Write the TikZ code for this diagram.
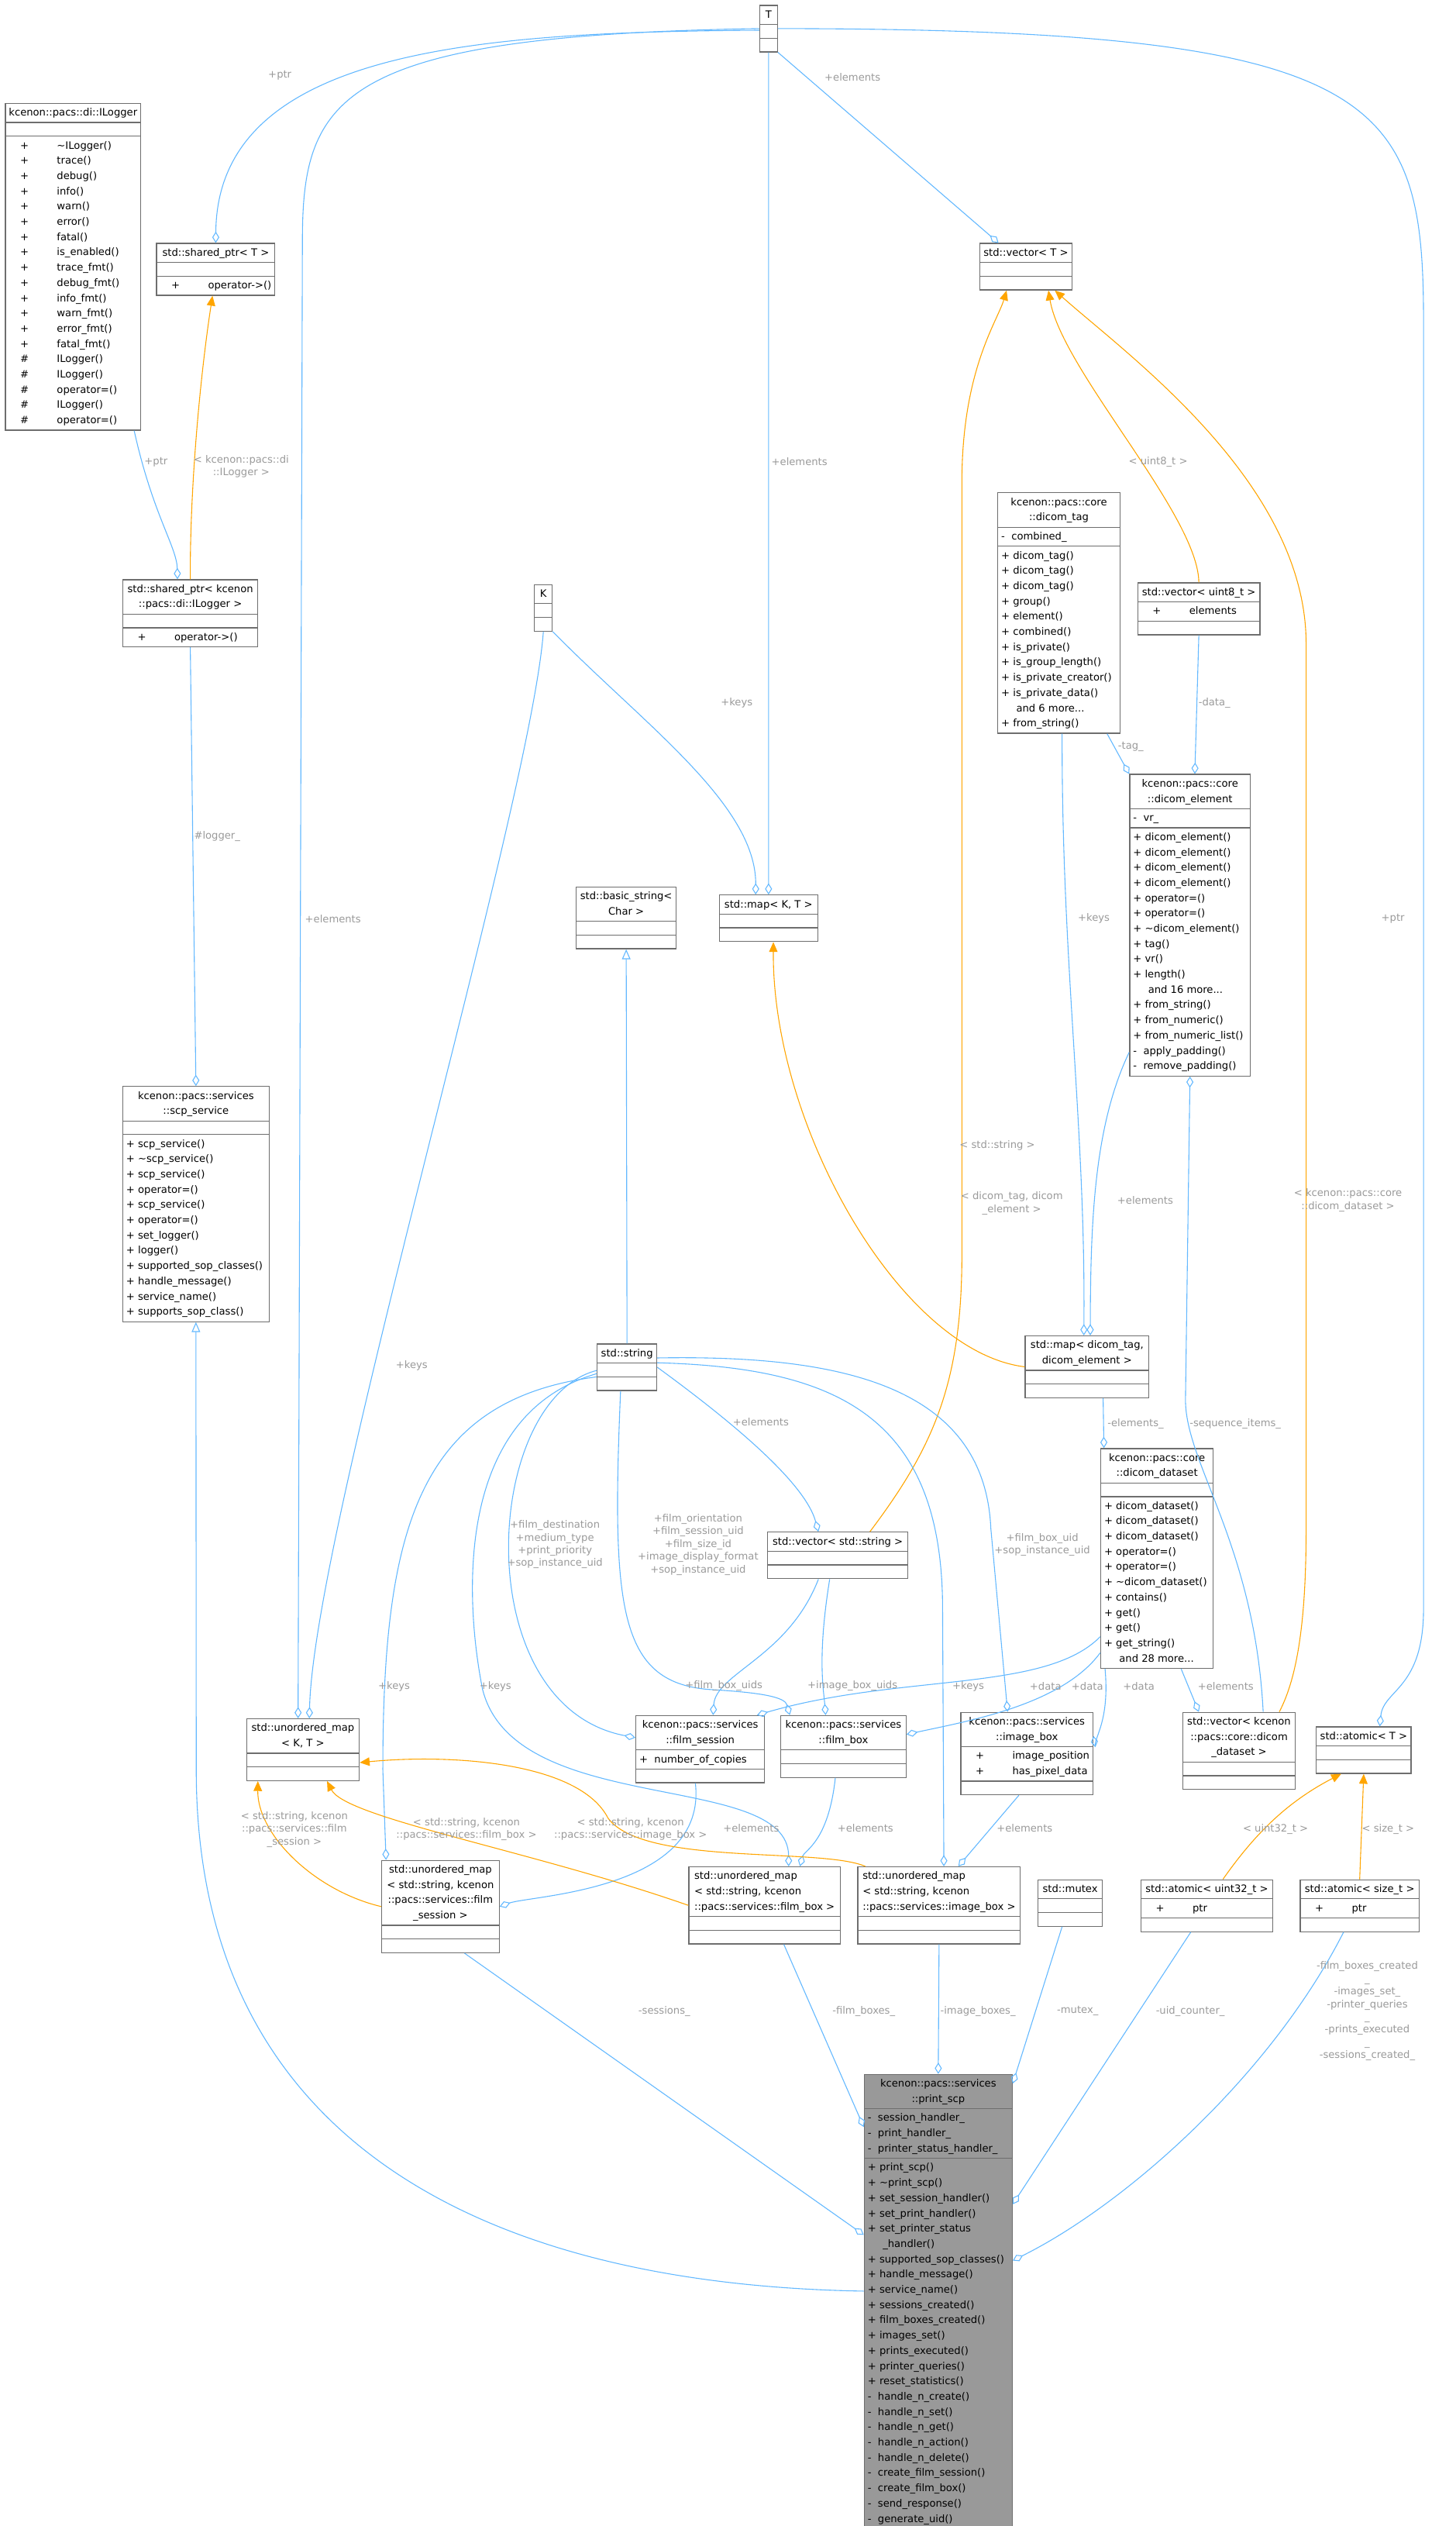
\documentclass[tikz,border=0pt]{standalone}
\usepackage{fontspec}
\usetikzlibrary{arrows.meta,shapes.multipart,calc}
\newfontfamily\dejavu{DejaVu Sans}
\definecolor{edgeblue}{HTML}{63B8FF}
\definecolor{edgeorange}{HTML}{FFA500}
\definecolor{labelgray}{HTML}{9A9A9A}
\definecolor{boxline}{HTML}{6E6E6E}
\definecolor{focusfill}{HTML}{999999}
\newcommand\ct[1]{\begin{tabular}{@{}c@{}}#1\end{tabular}}
\newcommand\ml[1]{\begin{tabular}{@{}l@{}}#1\end{tabular}}
\newcommand\wl[1]{\begin{tabular}{@{\hspace{8pt}}l@{\hspace{20pt}}l@{}}#1\end{tabular}}
\newcommand\emp{\hbox to 2pt{\rule{0pt}{7pt}\hfil}}
\tikzset{
  classbox/.style={draw=boxline, line width=0.7pt, fill=white, rectangle split, rectangle split parts=3,
    rectangle split ignore empty parts=false,
    rectangle split part align={center,left,left}, anchor=north west, inner xsep=2.5pt, inner ysep=1pt,
    font=\dejavu\fontsize{7.2}{10.8}\selectfont},
  focusbox/.style={classbox, fill=focusfill},
  aggr/.style={draw=edgeblue, line width=0.6pt, -{Diamond[open,length=8pt,width=5pt]}},
  inh/.style={draw=edgeblue, line width=0.6pt, -{Triangle[open,length=7pt,width=6pt]}},
  tmpl/.style={draw=edgeorange, line width=0.6pt, -{Triangle[length=7pt,width=6pt]}},
  lbl/.style={font=\dejavu\fontsize{7.2}{9}\selectfont, text=labelgray, align=center, inner sep=0pt}
}
\begin{document}
\begin{tikzpicture}[x=0.4mm,y=-0.4mm]
\useasboundingbox (0,0) rectangle (905,1570);
%% Classes
  % top row
  \node[classbox, minimum width=4.4mm] (T) at (472,3) {\ct{T}\nodepart{two}\emp\nodepart{three}\emp};
  \node[classbox, minimum width=33.6mm] (ILogger) at (3,64) {\ct{kcenon::pacs::di::ILogger}\nodepart{two}\emp
    \nodepart{three}\wl{+&\textasciitilde ILogger()\\+&trace()\\+&debug()\\+&info()\\+&warn()\\+&error()\\+&fatal()\\
    +&is\_enabled()\\+&trace\_fmt()\\+&debug\_fmt()\\+&info\_fmt()\\+&warn\_fmt()\\+&error\_fmt()\\+&fatal\_fmt()\\
    \#&ILogger()\\\#&ILogger()\\\#&operator=()\\\#&ILogger()\\\#&operator=()}};
  \node[classbox, minimum width=29.2mm] (sptrT) at (97,151) {\ct{std::shared\_ptr< T >}\nodepart{two}\emp
    \nodepart{three}\wl{+&operator->()}};
  \node[classbox, minimum width=22.8mm] (vecT) at (609,151) {\ct{std::vector< T >}\nodepart{two}\emp\nodepart{three}\emp};
  \node[classbox, minimum width=30.4mm] (dtag) at (620,306) {\ct{kcenon::pacs::core\\::dicom\_tag}
    \nodepart{two}\ml{-\ \ combined\_}
    \nodepart{three}\ml{+\ dicom\_tag()\\+\ dicom\_tag()\\+\ dicom\_tag()\\+\ group()\\+\ element()\\+\ combined()\\
    +\ is\_private()\\+\ is\_group\_length()\\+\ is\_private\_creator()\\+\ is\_private\_data()\\
    \hphantom{+}\ \ and 6 more...\\+\ from\_string()}};
  \node[classbox, minimum width=30.4mm] (vecU8) at (707,362) {\ct{std::vector< uint8\_t >}
    \nodepart{two}\wl{+&elements}\nodepart{three}\emp};
  \node[classbox, minimum width=33.6mm] (sptrLog) at (76,360) {\ct{std::shared\_ptr< kcenon\\::pacs::di::ILogger >}
    \nodepart{two}\emp\nodepart{three}\wl{+&operator->()}};
  \node[classbox, minimum width=4.4mm] (K) at (332,363) {\ct{K}\nodepart{two}\emp\nodepart{three}\emp};
  % middle
  \node[classbox, minimum width=30mm] (delem) at (702,481) {\ct{kcenon::pacs::core\\::dicom\_element}
    \nodepart{two}\ml{-\ \ vr\_}
    \nodepart{three}\ml{+\ dicom\_element()\\+\ dicom\_element()\\+\ dicom\_element()\\+\ dicom\_element()\\
    +\ operator=()\\+\ operator=()\\+\ \textasciitilde dicom\_element()\\+\ tag()\\+\ vr()\\+\ length()\\
    \hphantom{+}\ \ and 16 more...\\+\ from\_string()\\+\ from\_numeric()\\+\ from\_numeric\_list()\\
    -\ \ apply\_padding()\\-\ \ remove\_padding()}};
  \node[classbox, minimum width=24.8mm] (bstr) at (358,551) {\ct{std::basic\_string<\\Char >}\nodepart{two}\emp\nodepart{three}\emp};
  \node[classbox, minimum width=24.4mm] (mapKT) at (447,556) {\ct{std::map< K, T >}\nodepart{two}\emp\nodepart{three}\emp};
  \node[classbox, minimum width=36.4mm] (scpsvc) at (76,675) {\ct{kcenon::pacs::services\\::scp\_service}
    \nodepart{two}\emp
    \nodepart{three}\ml{+\ scp\_service()\\+\ \textasciitilde scp\_service()\\+\ scp\_service()\\+\ operator=()\\
    +\ scp\_service()\\+\ operator=()\\+\ set\_logger()\\+\ logger()\\+\ supported\_sop\_classes()\\
    +\ handle\_message()\\+\ service\_name()\\+\ supports\_sop\_class()}};
  \node[classbox, minimum width=14.8mm] (str) at (371,835) {\ct{std::string}\nodepart{two}\emp\nodepart{three}\emp};
  \node[classbox, minimum width=30.8mm] (mapTag) at (637,830) {\ct{std::map< dicom\_tag,\\dicom\_element >}\nodepart{two}\emp\nodepart{three}\emp};
  \node[classbox, minimum width=28mm] (dset) at (684,900) {\ct{kcenon::pacs::core\\::dicom\_dataset}
    \nodepart{two}\emp
    \nodepart{three}\ml{+\ dicom\_dataset()\\+\ dicom\_dataset()\\+\ dicom\_dataset()\\+\ operator=()\\+\ operator=()\\
    +\ \textasciitilde dicom\_dataset()\\+\ contains()\\+\ get()\\+\ get()\\+\ get\_string()\\\hphantom{+}\ \ and 28 more...}};
  \node[classbox, minimum width=34.8mm] (vecStr) at (477,952) {\ct{std::vector< std::string >}\nodepart{two}\emp\nodepart{three}\emp};
  % lower row
  \node[classbox, minimum width=28mm] (umapKT) at (153,1068) {\ct{std::unordered\_map\\< K, T >}\nodepart{two}\emp\nodepart{three}\emp};
  \node[classbox, minimum width=32mm] (fsess) at (395,1066) {\ct{kcenon::pacs::services\\::film\_session}
    \nodepart{two}\ml{+\ \ number\_of\_copies}\nodepart{three}\emp};
  \node[classbox, minimum width=31.2mm] (fbox) at (485,1066) {\ct{kcenon::pacs::services\\::film\_box}\nodepart{two}\emp\nodepart{three}\emp};
  \node[classbox, minimum width=32mm] (ibox) at (597,1064) {\ct{kcenon::pacs::services\\::image\_box}
    \nodepart{two}\wl{+&image\_position\\+&has\_pixel\_data}\nodepart{three}\emp};
  \node[classbox, minimum width=28mm] (vecDs) at (735,1064) {\ct{std::vector< kcenon\\::pacs::core::dicom\\\_dataset >}\nodepart{two}\emp\nodepart{three}\emp};
  \node[classbox, minimum width=23.6mm] (atomT) at (818,1073) {\ct{std::atomic< T >}\nodepart{two}\emp\nodepart{three}\emp};
  \node[classbox, minimum width=29.2mm] (umapFs) at (237,1156) {\ct{std::unordered\_map\\< std::string, kcenon\\::pacs::services::film\\\_session >}\nodepart{two}\emp\nodepart{three}\emp};
  \node[classbox, minimum width=37.6mm] (umapFb) at (428,1160) {\ml{std::unordered\_map\\< std::string, kcenon\\::pacs::services::film\_box >}\nodepart{two}\emp\nodepart{three}\emp};
  \node[classbox, minimum width=40.4mm] (umapIb) at (533,1160) {\ml{std::unordered\_map\\< std::string, kcenon\\::pacs::services::image\_box >}\nodepart{two}\emp\nodepart{three}\emp};
  \node[classbox, minimum width=16mm] (mutex) at (645,1168) {\ct{std::mutex}\nodepart{two}\emp\nodepart{three}\emp};
  \node[classbox, minimum width=32.8mm] (atomU32) at (709,1168) {\ct{std::atomic< uint32\_t >}\nodepart{two}\wl{+&ptr}\nodepart{three}\emp};
  \node[classbox, minimum width=29.6mm] (atomSz) at (808,1168) {\ct{std::atomic< size\_t >}\nodepart{two}\wl{+&ptr}\nodepart{three}\emp};
  % focus class
  \node[focusbox, minimum width=36.8mm] (pscp) at (537,1289) {\ct{kcenon::pacs::services\\::print\_scp}
    \nodepart{two}\ml{-\ \ session\_handler\_\\-\ \ print\_handler\_\\-\ \ printer\_status\_handler\_}
    \nodepart{three}\ml{+\ print\_scp()\\+\ \textasciitilde print\_scp()\\+\ set\_session\_handler()\\+\ set\_print\_handler()\\
    +\ set\_printer\_status\\\hphantom{+}\ \ \_handler()\\+\ supported\_sop\_classes()\\+\ handle\_message()\\+\ service\_name()\\
    +\ sessions\_created()\\+\ film\_boxes\_created()\\+\ images\_set()\\+\ prints\_executed()\\+\ printer\_queries()\\
    +\ reset\_statistics()\\-\ \ handle\_n\_create()\\-\ \ handle\_n\_set()\\-\ \ handle\_n\_get()\\-\ \ handle\_n\_action()\\
    -\ \ handle\_n\_delete()\\-\ \ create\_film\_session()\\-\ \ create\_film\_box()\\-\ \ send\_response()\\-\ \ generate\_uid()}};
%% Edges
  % from T and K
  \draw[aggr] (T.190) .. controls (300,20) and (135,30) .. (sptrT.north);
  \draw[aggr] (T.south east) -- ($(vecT.north)+(-17,0)$);
  \draw[aggr] (T.south) -- (mapKT.north);
  \draw[aggr] (T.west) .. controls (210,22) and (188,60) .. (188,150) -- ($(umapKT.north)+(-3,0)$);
  \draw[aggr] (T.east) .. controls (860,18) and (885,60) .. (885,200) -- (885,1000) .. controls (885,1050) and (860,1050) .. ($(atomT.north)+(10,0)$);
  \draw[aggr] (K.south east) .. controls (400,450) and (470,500) .. ($(mapKT.north)+(-8,0)$);
  \draw[aggr] (K.south) .. controls (330,500) and (195,950) .. ($(umapKT.north)+(4,0)$);
  % logger
  \draw[aggr] ($(ILogger.south)+(38,0)$) .. controls (95,320) and (110,340) .. ($(sptrLog.north)+(-8,0)$);
  \draw[tmpl] (sptrLog.north) .. controls (118,300) and (125,230) .. ($(sptrT.south)+(-2,0)$);
  \draw[aggr] (sptrLog.south) -- (scpsvc.north);
  \draw[inh] ($(pscp.north west)+(0,135)$) .. controls (300,1420) and (122,1330) .. (122,1100) -- (scpsvc.south);
  % dicom
  \draw[tmpl] (vecU8.north) .. controls (745,320) and (660,230) .. ($(vecT.south)+(14,0)$);
  \draw[aggr] (vecU8.south) -- ($(delem.north)+(3,0)$);
  \draw[aggr] ($(dtag.south)+(30,0)$) -- (delem.north west);
  \draw[aggr] ($(dtag.south)+(2,0)$) .. controls (660,600) and (675,700) .. ($(mapTag.north)+(-2,0)$);
  \draw[aggr] ($(delem.south west)+(0,-15)$) .. controls (680,700) and (678,760) .. ($(mapTag.north)+(2,0)$);
  \draw[tmpl] (mapTag.west) .. controls (560,840) and (480,700) .. ($(mapKT.south)+(3,0)$);
  \draw[aggr] ($(mapTag.south)+(10,0)$) -- ($(dset.north)+(-33,0)$);
  \draw[aggr] ($(dset.south)+(15,0)$) -- ($(vecDs.north)+(-25,0)$);
  \draw[aggr] ($(vecDs.north)+(15,0)$) .. controls (780,960) and (737,910) .. (737,870) -- (delem.south);
  \draw[tmpl] ($(vecDs.north)+(25,0)$) .. controls (808,1040) and (812,1000) .. (812,950) -- (812,400) .. controls (812,300) and (700,220) .. ($(vecT.south)+(18,0)$);
  % strings
  \draw[inh] (str.north) -- (bstr.south);
  \draw[tmpl] ($(vecStr.north)+(20,0)$) .. controls (580,900) and (598,860) .. (598,780) -- (598,300) .. controls (598,230) and (620,200) .. ($(vecT.south)+(-12,0)$);
  \draw[aggr] (str.east) .. controls (450,880) and (500,920) .. ($(vecStr.north)+(-12,0)$);
  \draw[aggr] ($(str.west)+(0,2)$) .. controls (300,870) and (290,1060) .. ($(fsess.north west)+(0,14)$);
  \draw[aggr] ($(str.south)+(-4,0)$) .. controls (380,1000) and (385,1045) .. (440,1050) .. controls (475,1052) and (488,1055) .. ($(fbox.north west)+(6,0)$);
  \draw[aggr] ($(str.west)+(0,4)$) .. controls (280,880) and (290,1000) .. (300,1050) .. controls (320,1130) and (490,1100) .. ($(umapFb.north)+(15,0)$);
  \draw[aggr] ($(str.west)+(0,6)$) .. controls (260,870) and (238,950) .. (238,1100) -- ($(umapFs.north west)+(3,0)$);
  \draw[aggr] ($(str.north east)+(0,12)$) .. controls (520,850) and (586,880) .. (586,1000) -- ($(umapIb.north)+(3,0)$);
  \draw[aggr] ($(str.north east)+(0,9)$) .. controls (520,842) and (612,860) .. (616,950) -- ($(ibox.north)+(-12,0)$);
  \draw[aggr] ($(vecStr.south)+(-12,0)$) .. controls (490,1030) and (445,1040) .. ($(fsess.north)+(8,0)$);
  \draw[aggr] ($(vecStr.south)+(-5,0)$) .. controls (508,1030) and (512,1050) .. ($(fbox.north)+(-11,0)$);
  \draw[aggr] ($(dset.south west)+(0,-20)$) .. controls (650,1052) and (560,1040) .. ($(fsess.north east)+(-5,0)$);
  \draw[aggr] ($(dset.south west)+(0,-10)$) .. controls (660,1060) and (600,1070) .. ($(fbox.north east)+(0,12)$);
  \draw[aggr] ($(dset.south west)+(3,0)$) .. controls (690,1070) and (680,1080) .. ($(ibox.north east)+(0,15)$);
  % unordered maps
  \draw[aggr] ($(fsess.south)+(-3,0)$) .. controls (440,1175) and (330,1178) .. (umapFs.east);
  \draw[aggr] ($(fbox.south)+(-5,0)$) .. controls (515,1145) and (500,1150) .. ($(umapFb.north)+(22,0)$);
  \draw[aggr] ($(ibox.south)+(-5,0)$) -- ($(umapIb.north)+(12,0)$);
  \draw[tmpl] (umapFs.west) .. controls (195,1175) and (160,1140) .. ($(umapKT.south)+(-28,0)$);
  \draw[tmpl] (umapFb.west) .. controls (330,1150) and (215,1130) .. ($(umapKT.south)+(15,0)$);
  \draw[tmpl] ($(umapIb.north west)+(5,0)$) .. controls (510,1148) and (400,1160) .. (378,1130) .. controls (360,1095) and (280,1090) .. ($(umapKT.east)+(0,8)$);
  % into print_scp
  \draw[aggr] ($(umapFs.south)+(15,0)$) -- ($(pscp.north west)+(0,100)$);
  \draw[aggr] ($(umapFb.south)+(12,0)$) -- ($(pscp.north west)+(0,33)$);
  \draw[aggr] (umapIb.south) -- (pscp.north);
  \draw[aggr] ($(mutex.south)+(-5,0)$) -- ($(pscp.north east)+(0,6)$);
  \draw[aggr] ($(atomU32.south)+(-10,0)$) -- ($(pscp.north east)+(0,81)$);
  \draw[aggr] ($(atomSz.south)+(-10,0)$) .. controls (790,1290) and (700,1370) .. ($(pscp.north east)+(0,116)$);
  \draw[tmpl] ($(atomU32.north)+(10,0)$) .. controls (780,1140) and (800,1120) .. ($(atomT.south)+(-14,0)$);
  \draw[tmpl] (atomSz.north) -- (atomT.south);
%% Labels
  \node[lbl] (lptrT) at (174,47) {+ptr};
  \node[lbl] (lvecT) at (530,48) {+elements};
  \node[lbl] (lmapKT) at (497,287) {+elements};
  \node[lbl] (lumapT) at (207,571) {+elements};
  \node[lbl] (latomT) at (866,571) {+ptr};
  \node[lbl] (lptrLog) at (97,287) {+ptr};
  \node[lbl] (lsptr) at (150,290) {< kcenon::pacs::di\\::ILogger >};
  \node[lbl] (llogger) at (135,520) {\#logger\_};
  \node[lbl] (lu8) at (720,287) {< uint8\_t >};
  \node[lbl] (ldata) at (755,437) {-data\_};
  \node[lbl] (ltag) at (703,464) {-tag\_};
  \node[lbl] (lkeystag) at (680,571) {+keys};
  \node[lbl] (lelemtag) at (712,746) {+elements};
  \node[lbl] (ldtmap) at (629,748) {< dicom\_tag, dicom\\\_element >};
  \node[lbl] (lvstr) at (620,712) {< std::string >};
  \node[lbl] (lvds) at (838,746) {< kcenon::pacs::core\\::dicom\_dataset >};
  \node[lbl] (lstrel) at (473,884) {+elements};
  \node[lbl] (lkeysK) at (458,437) {+keys};
  \node[lbl] (lkeysU) at (256,849) {+keys};
  \node[lbl] (lelems) at (706,885) {-elements\_};
  \node[lbl] (lseq) at (768,885) {-sequence\_items\_};
  \node[lbl] (ldselem) at (762,1048) {+elements};
  \node[lbl] (lfsess) at (345,960) {+film\_destination\\+medium\_type\\+print\_priority\\+sop\_instance\_uid};
  \node[lbl] (lfbox) at (434,960) {+film\_orientation\\+film\_session\_uid\\+film\_size\_id\\+image\_display\_format\\+sop\_instance\_uid};
  \node[lbl] (lkeysFb) at (308,1048) {+keys};
  \node[lbl] (lkeysFs) at (245,1048) {+keys};
  \node[lbl] (lkeysIb) at (602,1048) {+keys};
  \node[lbl] (libox) at (648,960) {+film\_box\_uid\\+sop\_instance\_uid};
  \node[lbl] (lfbuids) at (450,1048) {+film\_box\_uids};
  \node[lbl] (libuids) at (530,1048) {+image\_box\_uids};
  \node[lbl] (ldata1) at (650,1048) {+data};
  \node[lbl] (ldata2) at (676,1048) {+data};
  \node[lbl] (ldata3) at (708,1048) {+data};
  \node[lbl] (lel1) at (467,1136) {+elements};
  \node[lbl] (lel2) at (538,1136) {+elements};
  \node[lbl] (lel3) at (637,1136) {+elements};
  \node[lbl] (lufs) at (183,1137) {< std::string, kcenon\\::pacs::services::film\\\_session >};
  \node[lbl] (lufb) at (290,1137) {< std::string, kcenon\\::pacs::services::film\_box >};
  \node[lbl] (luib) at (392,1137) {< std::string, kcenon\\::pacs::services::image\_box >};
  \node[lbl] (lsess) at (413,1250) {-sessions\_};
  \node[lbl] (lfbs) at (537,1250) {-film\_boxes\_};
  \node[lbl] (libs) at (608,1250) {-image\_boxes\_};
  \node[lbl] (lmutex) at (670,1250) {-mutex\_};
  \node[lbl] (luid) at (740,1250) {-uid\_counter\_};
  \node[lbl] (lstats) at (850,1250) {-film\_boxes\_created\\\_\\-images\_set\_\\-printer\_queries\\\_\\-prints\_executed\\\_\\-sessions\_created\_};
  \node[lbl] (lu32) at (793,1137) {< uint32\_t >};
  \node[lbl] (lsz) at (863,1137) {< size\_t >};
\end{tikzpicture}
\end{document}
